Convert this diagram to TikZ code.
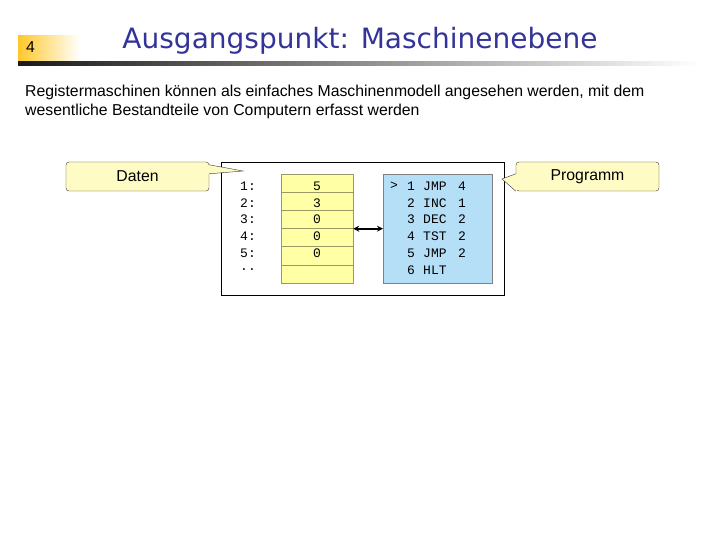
\documentclass[tikz,border=0pt]{standalone}
\usepackage{fontspec}
\setmainfont{Liberation Sans}
\newfontfamily\titlefont{DejaVu Sans}
\setmonofont{Liberation Mono}
\usepackage{xcolor}
\usetikzlibrary{arrows.meta}

\definecolor{titelblau}{HTML}{333399}
\definecolor{folienorange}{HTML}{FFC829}
\definecolor{zellgelb}{HTML}{FFFFA6}
\definecolor{zellrand}{HTML}{999966}
\definecolor{progblau}{HTML}{B5DEF7}
\definecolor{blasegelb}{HTML}{FFFBC4}

\tikzset{
	titel/.style={font=\titlefont\fontsize{28}{32}\selectfont, text=titelblau, anchor=base},
	fliess/.style={font=\fontsize{15.8}{19}\selectfont, anchor=base west, inner sep=0pt},
	zelle/.style={draw=zellrand, fill=zellgelb, minimum width=72pt, minimum height=18.17pt, inner sep=0pt},
	mono/.style={font=\ttfamily\fontsize{13}{15}\selectfont, inner sep=0pt},
	blase/.style={draw=black!80, fill=blasegelb, rounded corners=3pt, minimum width=143pt, minimum height=29pt, font=\fontsize{15.8}{19}\selectfont},
	spitze/.style={fill=blasegelb},
	spitzenrand/.style={draw=black!80},
	doppelpfeil/.style={{Stealth[length=6pt,width=6pt]}-{Stealth[length=6pt,width=6pt]}, line width=1.6pt}
}

\begin{document}
\begin{tikzpicture}[x=1pt,y=-1pt]
	\useasboundingbox (0,0) rectangle (720,540);
	% Kopfzeile
	\shade [left color=folienorange, right color=white] (18,36) rectangle (80,61);
	\shade [left color=black!90, right color=white] (18,62) rectangle (700,66);
	\node [fliess] (nummer) at (26,53) {4};
	\node [titel] (titelzeile) at (360,49) {Ausgangspunkt: Maschinenebene};
	\node [fliess] (zeileA) at (25,97) {Registermaschinen können als einfaches Maschinenmodell angesehen werden, mit dem};
	\node [fliess] (zeileB) at (25,116) {wesentliche Bestandteile von Computern erfasst werden};

	% Maschine
	\node [draw=black, fill=white, minimum width=283pt, minimum height=133pt, anchor=north west] (maschine) at (221,162) {};
	\foreach \i in {1,...,6}
		\node [zelle] (z\i) at (317, {174+(\i-0.5)*18.17}) {};
	\foreach \r/\v [count=\i] in {1:/5, 2:/3, 3:/0, 4:/0, 5:/0, ../{}} {
		\node [mono, anchor=west] (r\i) at (240, {186+(\i-1)*16.8}) {\r};
		\node [mono] (w\i) at (317, {186+(\i-1)*16.8}) {\v};
	}
	\node [draw=black!50, fill=progblau, minimum width=109pt, minimum height=109pt, anchor=north west] (prog) at (383,174) {};
	\node [mono] (zeiger) at (394,186) {>};
	\foreach \n/\op/\arg [count=\i] in {1/JMP/4, 2/INC/1, 3/DEC/2, 4/TST/2, 5/JMP/2, 6/HLT/{}} {
		\node [mono] (n\i) at (411, {186+(\i-1)*16.8}) {\n};
		\node [mono, anchor=west] (o\i) at (423, {186+(\i-1)*16.8}) {\op};
		\node [mono] (a\i) at (462, {186+(\i-1)*16.8}) {\arg};
	}
	\draw [doppelpfeil] (z3.south east) -- (z3.south east -| prog.west);

	% Sprechblasen
	\node [blase] (daten) at (137.5,176.5) {Daten};
	\coordinate (datenspitze) at (243,171);
	\fill [spitze] ([shift={(-1,3)}]daten.north east) -- (datenspitze) -- ([shift={(-1,12)}]daten.north east) -- cycle;
	\draw [spitzenrand] ([shift={(0,3)}]daten.north east) -- (datenspitze) -- ([shift={(0,12)}]daten.north east);

	\node [blase] (programm) at (587.5,176.5) {Programm};
	\coordinate (progspitze) at (502,179);
	\fill [spitze] ([shift={(1,12)}]programm.north west) -- (progspitze) -- ([shift={(1,0)}]programm.south west) -- cycle;
	\draw [spitzenrand] ([shift={(0,12)}]programm.north west) -- (progspitze) -- (programm.south west);
\end{tikzpicture}
\end{document}
